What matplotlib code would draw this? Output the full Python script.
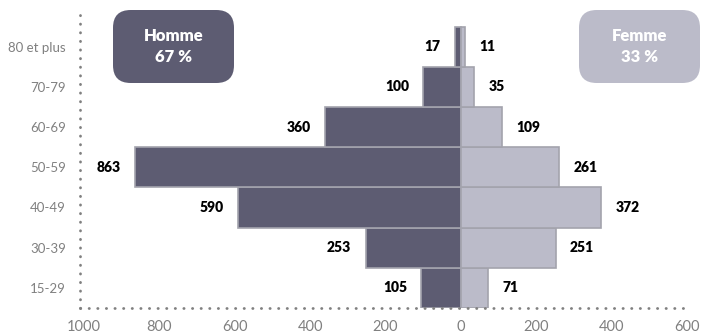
"""Pyramide des âges Homme / Femme."""

import matplotlib
matplotlib.use("Agg")
import matplotlib.pyplot as plt
from matplotlib.patches import FancyBboxPatch

plt.rcParams["font.family"] = ["Lato", "DejaVu Sans"]

ages = ["15-29", "30-39", "40-49", "50-59", "60-69", "70-79", "80 et plus"]
hommes = [105, 253, 590, 863, 360, 100, 17]
femmes = [71, 251, 372, 261, 109, 35, 11]
xticks = [-1000, -800, -600, -400, -200, 0, 200, 400, 600]

DARK = "#5d5c72"
LIGHT = "#bbbbc9"
EDGE = "#a3a3ad"
GREY = "#808080"

fig = plt.figure(figsize=(7.08, 3.34), dpi=100)
ax = fig.add_axes([80 / 708, 0.078, 611 / 708, 0.877])

y = range(len(ages))
ax.barh(y, [-v for v in hommes], height=1.0, color=DARK, edgecolor=EDGE, linewidth=1.2)
ax.barh(y, femmes, height=1.0, color=LIGHT, edgecolor=EDGE, linewidth=1.2)

for i, (h, f) in enumerate(zip(hommes, femmes)):
    ax.text(-h - 38, i, str(h), ha="right", va="center", fontsize=10,
            fontweight="heavy", color="black")
    ax.text(f + 38, i, str(f), ha="left", va="center", fontsize=10,
            fontweight="heavy", color="black")

ax.set_xlim(-1010, 610)
ax.set_ylim(-0.5, 6.79)
ax.set_xticks(xticks)
ax.set_xticklabels([str(abs(t)) for t in xticks])
ax.set_yticks(list(y))
ax.set_yticklabels(ages)
ax.tick_params(length=0, colors=GREY, labelsize=9.5)
ax.tick_params(axis="x", pad=9, labelsize=10.5)
ax.tick_params(axis="y", pad=10)

for side in ("top", "right"):
    ax.spines[side].set_visible(False)
for side in ("left", "bottom"):
    sp = ax.spines[side]
    sp.set_color(GREY)
    sp.set_linewidth(2)
    sp.set_linestyle((0, (0.1, 3)))
    sp.set_capstyle("round")

# cartouches Homme / Femme
for x0, label, col in [(113, "Homme\n67 %", DARK), (579, "Femme\n33 %", LIGHT)]:
    w, h = 121 / 708, 73 / 334
    x = x0 / 708
    yb = 1 - 83 / 334
    box = FancyBboxPatch((x, yb), w, h, boxstyle="round,pad=0,rounding_size=0.025",
                         transform=fig.transFigure, facecolor=col, edgecolor="none",
                         mutation_aspect=708 / 334)
    fig.patches.append(box)
    fig.text(x + w / 2, yb + h / 2, label, ha="center", va="center", color="white",
             fontsize=12, fontweight="heavy", linespacing=1.45)

fig.savefig("out.png")
